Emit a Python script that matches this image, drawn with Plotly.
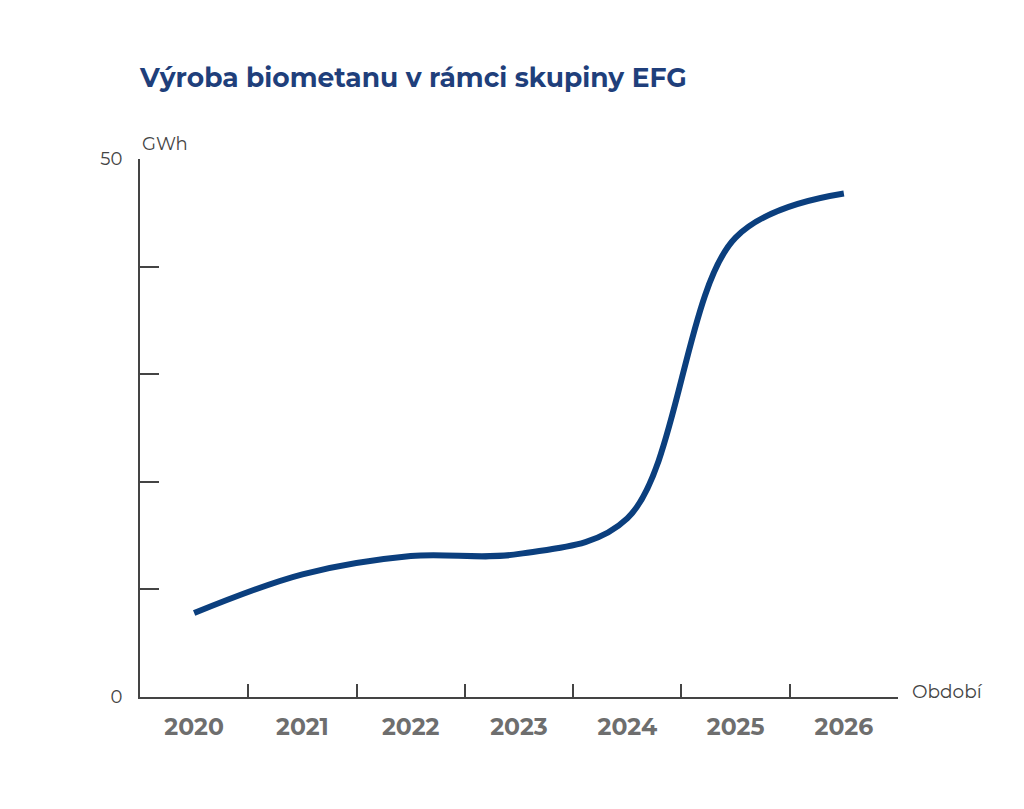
import plotly.graph_objects as go

years = ["2020", "2021", "2022", "2023", "2024", "2025", "2026"]
production_gwh = [7.8, 11.4, 13.1, 13.3, 16.6, 42.7, 46.8]
y_tickvals = [0, 10, 20, 30, 40, 50]
y_ticktext = ["0", "", "", "", "", "50"]

FONT = "Montserrat, Lato, 'Open Sans', sans-serif"
AXIS_COLOR = "#444444"

fig = go.Figure()
fig.add_trace(go.Scatter(
    x=years, y=production_gwh, mode="lines",
    line=dict(color="#0b3f7e", width=6, shape="spline", smoothing=1.0),
    hoverinfo="x+y", showlegend=False,
))

fig.update_layout(
    width=1024, height=809,
    paper_bgcolor="white", plot_bgcolor="white",
    margin=dict(l=132, r=134, t=151, b=120),
    font=dict(family=FONT, color=AXIS_COLOR),
    title=dict(text="<b>Výroba biometanu v rámci skupiny EFG</b>",
               x=132/1024, xanchor="left", y=1-70/809, yanchor="middle",
               font=dict(size=26.5, color="#1f3f7b", family=FONT)),
    xaxis=dict(
        type="category", range=[-0.5, 6.5],
        showline=True, linecolor=AXIS_COLOR, linewidth=2,
        ticks="inside", tickson="boundaries", ticklen=13, tickwidth=2, tickcolor=AXIS_COLOR,
        showgrid=False, zeroline=False,
        tickfont=dict(size=23.5, color="#6e6e6e", family=FONT, weight="bold"),
        ticklabelstandoff=8,
    ),
    yaxis=dict(
        range=[0, 50],
        tickvals=y_tickvals, ticktext=y_ticktext,
        showline=True, linecolor=AXIS_COLOR, linewidth=2,
        ticks="inside", ticklen=19, tickwidth=2, tickcolor=AXIS_COLOR,
        showgrid=False, zeroline=False,
        tickfont=dict(size=18, color="#444444", family=FONT),
        ticklabelstandoff=12,
    ),
    annotations=[
        dict(text="GWh", xref="paper", yref="paper", x=0, y=1, xanchor="left", yanchor="bottom",
             yshift=2, showarrow=False, font=dict(size=18, color="#444444", family=FONT)),
        dict(text="Období", xref="paper", yref="paper", x=1, y=0, xanchor="left", yanchor="middle",
             xshift=12, yshift=6, showarrow=False, font=dict(size=18.5, color="#444444", family=FONT)),
    ],
)

fig.write_html("out.html")
